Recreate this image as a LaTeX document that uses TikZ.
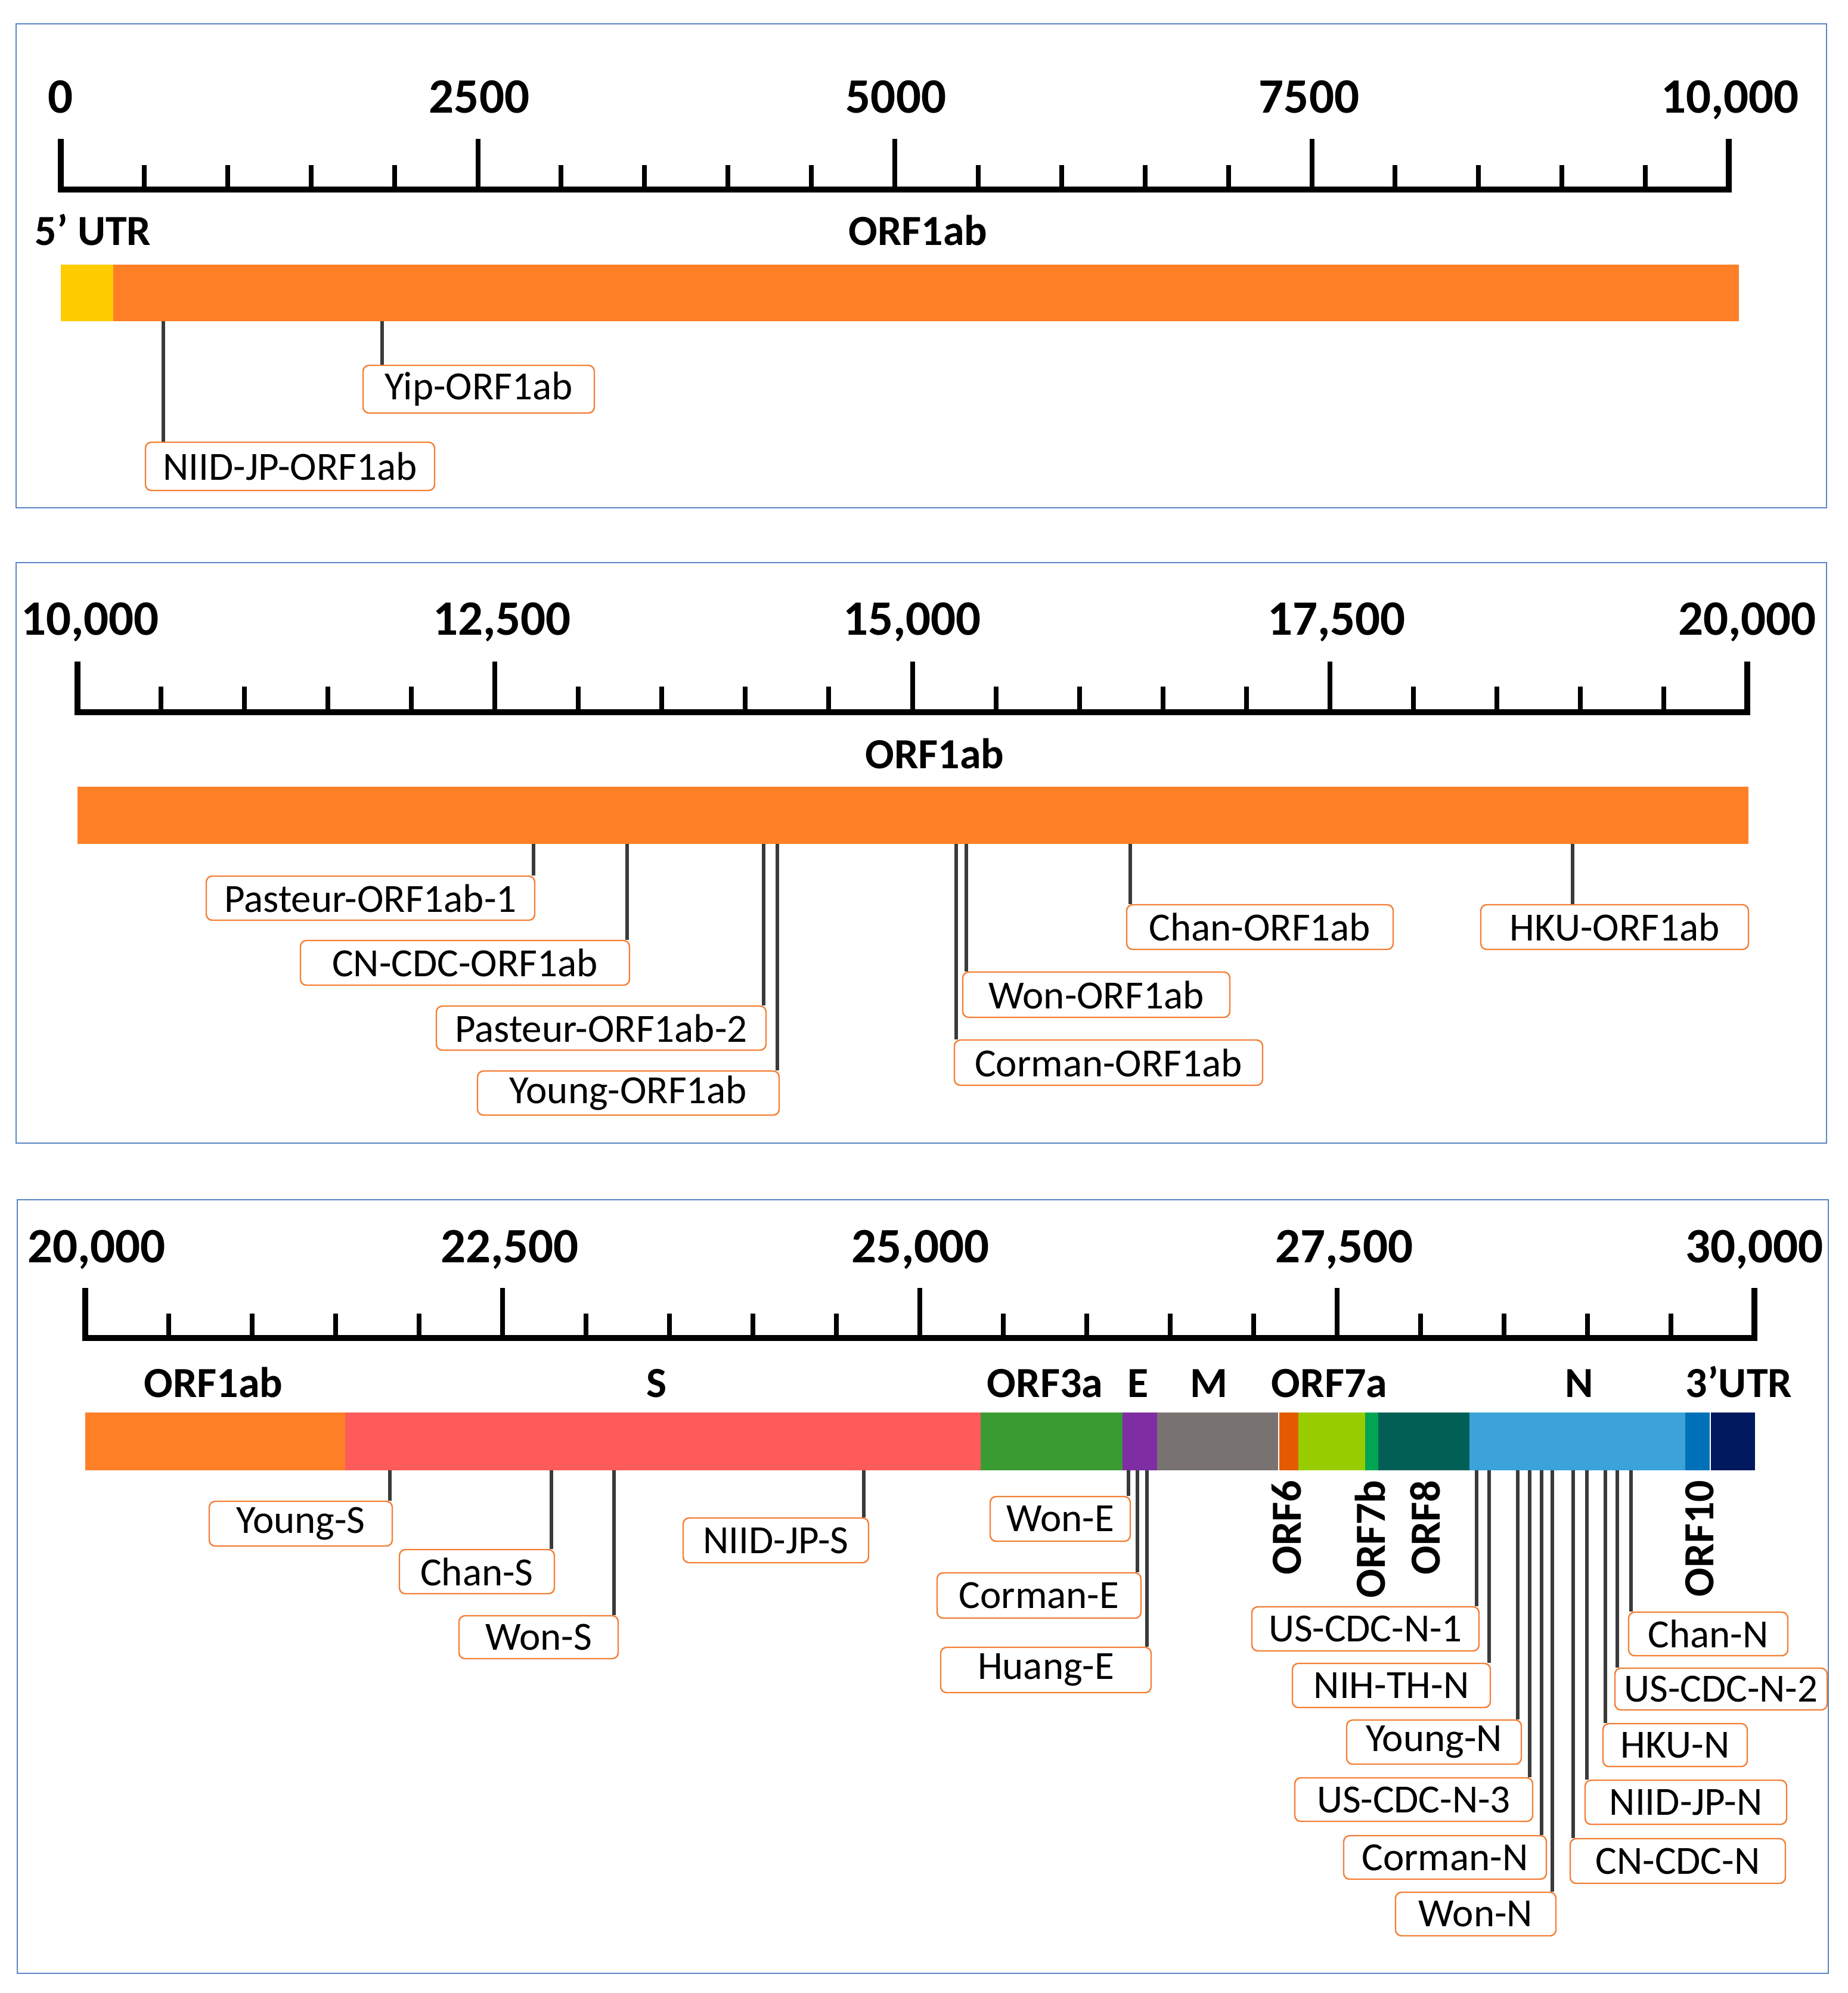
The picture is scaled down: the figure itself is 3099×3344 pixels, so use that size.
\documentclass[tikz,border=0pt]{standalone}
\usepackage{fontspec}
\setmainfont{Carlito}
\definecolor{frameblue}{HTML}{5A85C4}
\definecolor{boxorange}{HTML}{F47F36}
\definecolor{conngray}{HTML}{3A3A3A}
\definecolor{cUTRf}{HTML}{FFCC00}
\definecolor{cORFone}{HTML}{FF7F27}
\definecolor{cS}{HTML}{FF5B5B}
\definecolor{cORFthreea}{HTML}{3B9B33}
\definecolor{cE}{HTML}{7F2DA3}
\definecolor{cM}{HTML}{787371}
\definecolor{cORFsix}{HTML}{E35A00}
\definecolor{cORFsevena}{HTML}{97CD00}
\definecolor{cORFsevenb}{HTML}{00A652}
\definecolor{cORFeight}{HTML}{015F56}
\definecolor{cN}{HTML}{3BA2DA}
\definecolor{cORFten}{HTML}{0071B9}
\definecolor{cUTRt}{HTML}{00195F}
\newcommand{\mkprobe}[8]{%
  \node[probebox, minimum width={(#4-#2)*0.25pt}, minimum height={(#5-#3)*0.25pt}] (#1) at ({(#2+#4)/2},{(#3+#5)/2}) {#8};
  \coordinate (#1-src) at (#6,#7);
  \draw[conn] (#1-src) -- (#1-src |- #1.north);
}
\newcommand{\mkaxis}[5]{%
  \draw[axisline] (#1,#4) -- (#1,#3) -- (#2,#3) -- (#2,#4);
  \foreach \i in {1,2,3,4,6,7,8,9,11,12,13,14,16,17,18,19} {
    \pgfmathsetmacro\xx{#1+(#2-#1)/20*\i}
    \draw[tickline] (\xx,#3) -- (\xx,#5);
  }
  \foreach \i in {5,10,15} {
    \pgfmathsetmacro\xx{#1+(#2-#1)/20*\i}
    \draw[tickline] (\xx,#3) -- (\xx,#4);
  }
}
\begin{document}
\begin{tikzpicture}[x=0.25pt,y=-0.25pt,
  panelframe/.style={draw=frameblue, line width=0.7pt},
  axisline/.style={line width=2.3pt, draw=black, line join=miter},
  tickline/.style={line width=2pt, draw=black},
  num/.style={font=\bfseries\fontsize{20.75}{24}\selectfont, anchor=base, inner sep=0pt},
  gene/.style={font=\bfseries\fontsize{18}{21}\selectfont, anchor=base, inner sep=0pt},
  vgene/.style={font=\bfseries\fontsize{18}{21}\selectfont, anchor=east, rotate=90, inner sep=0pt},
  probebox/.style={draw=boxorange, fill=white, line width=0.6pt, rounded corners=2.5pt, inner sep=0pt, font=\fontsize{16.75}{20}\selectfont},
  conn/.style={draw=conngray, line width=1.4pt},
]
\fill[white] (0,0) rectangle (3099,3344);
\useasboundingbox (0,0) rectangle (3099,3344);

% ================= Panel 1 =================
\draw[panelframe] (27,40) rectangle (3064,852);
\mkaxis{102}{2900}{318}{233}{277}
\node[num] (p1n0) at (102,189) {0};
\node[num] (p1n1) at (804,189) {2500};
\node[num] (p1n2) at (1503,189) {5000};
\node[num] (p1n3) at (2196,189) {7500};
\node[num] (p1n4) at (2902,189) {10,000};
\node[gene] (p1utr) at (156,411) {5’ UTR};
\node[gene] (p1orf) at (1540,411) {ORF1ab};
\fill[cUTRf] (102,444) rectangle (190,539);
\fill[cORFone] (190,444) rectangle (2917,539);
\mkprobe{niidjporf}{244}{742}{729}{823}{274}{539}{NIID-JP-ORF1ab}
\mkprobe{yiporf}{609}{613}{997}{693}{641}{539}{Yip-ORF1ab}

% ================= Panel 2 =================
\draw[panelframe] (27,944) rectangle (3064,1918);
\mkaxis{130}{2931}{1195}{1110}{1152}
\node[num] (p2n0) at (151,1065) {10,000};
\node[num] (p2n1) at (842,1065) {12,500};
\node[num] (p2n2) at (1530,1065) {15,000};
\node[num] (p2n3) at (2242,1065) {17,500};
\node[num] (p2n4) at (2931,1065) {20,000};
\node[gene] (p2orf) at (1568,1289) {ORF1ab};
\fill[cORFone] (130,1320) rectangle (2933,1416);
\mkprobe{pasteurone}{346}{1470}{897}{1544}{895}{1416}{Pasteur-ORF1ab-1}
\mkprobe{cncdcorf}{504}{1578}{1056}{1653}{1052}{1416}{CN-CDC-ORF1ab}
\mkprobe{pasteurtwo}{732}{1688}{1285}{1762}{1281}{1416}{Pasteur-ORF1ab-2}
\mkprobe{youngorf}{801}{1797}{1307}{1871}{1304}{1416}{Young-ORF1ab}
\mkprobe{wonorf}{1615}{1631}{2063}{1707}{1621}{1416}{Won-ORF1ab}
\mkprobe{cormanorf}{1601}{1745}{2118}{1821}{1604}{1416}{Corman-ORF1ab}
\mkprobe{chanorf}{1890}{1518}{2337}{1593}{1896}{1416}{Chan-ORF1ab}
\mkprobe{hkuorf}{2484}{1518}{2933}{1593}{2638}{1416}{HKU-ORF1ab}

% ================= Panel 3 =================
\draw[panelframe] (29,2013) rectangle (3067,3311);
\mkaxis{143}{2943}{2245}{2161}{2204}
\node[num] (p3n0) at (162,2118) {20,000};
\node[num] (p3n1) at (855,2118) {22,500};
\node[num] (p3n2) at (1544,2118) {25,000};
\node[num] (p3n3) at (2255,2118) {27,500};
\node[num] (p3n4) at (2943,2118) {30,000};
\node[gene] (gORF1ab) at (358,2344) {ORF1ab};
\node[gene] (gS) at (1102,2344) {S};
\node[gene] (gORF3a) at (1753,2344) {ORF3a};
\node[gene] (gE) at (1909,2344) {E};
\node[gene] (gM) at (2028,2344) {M};
\node[gene] (gORF7a) at (2230,2344) {ORF7a};
\node[gene] (gN) at (2649,2344) {N};
\node[gene] (gUTR) at (2917,2344) {3’UTR};
\fill[cORFone] (143,2370) rectangle (579,2467);
\fill[cS] (579,2370) rectangle (1645,2467);
\fill[cORFthreea] (1645,2370) rectangle (1883,2467);
\fill[cE] (1883,2370) rectangle (1941,2467);
\fill[cM] (1941,2370) rectangle (2144,2467);
\fill[cORFsix] (2146,2370) rectangle (2178,2467);
\fill[cORFsevena] (2178,2370) rectangle (2290,2467);
\fill[cORFsevenb] (2290,2370) rectangle (2312,2467);
\fill[cORFeight] (2312,2370) rectangle (2465,2467);
\fill[cN] (2465,2370) rectangle (2827,2467);
\fill[cORFten] (2827,2370) rectangle (2868,2467);
\fill[cUTRt] (2870,2370) rectangle (2944,2467);
\node[vgene] (gORF6) at (2158,2483) {ORF6};
\node[vgene] (gORF7b) at (2298,2483) {ORF7b};
\node[vgene] (gORF8) at (2391,2483) {ORF8};
\node[vgene] (gORF10) at (2851,2483) {ORF10};

\mkprobe{youngs}{351}{2519}{658}{2594}{654}{2467}{Young-S}
\mkprobe{chans}{670}{2600}{930}{2674}{925}{2467}{Chan-S}
\mkprobe{wons}{770}{2711}{1037}{2783}{1030}{2467}{Won-S}
\mkprobe{niidjps}{1146}{2547}{1457}{2622}{1449}{2467}{NIID-JP-S}
\mkprobe{wone}{1661}{2511}{1896}{2586}{1893}{2467}{Won-E}
\mkprobe{cormane}{1572}{2639}{1914}{2715}{1908}{2467}{Corman-E}
\mkprobe{huange}{1578}{2764}{1931}{2840}{1924}{2467}{Huang-E}
\mkprobe{uscdcnone}{2100}{2696}{2481}{2770}{2477}{2467}{US-CDC-N-1}
\mkprobe{nihthn}{2168}{2791}{2500}{2865}{2498}{2467}{NIH-TH-N}
\mkprobe{youngn}{2259}{2886}{2552}{2960}{2546}{2467}{Young-N}
\mkprobe{uscdcnthree}{2172}{2983}{2571}{3056}{2566}{2467}{US-CDC-N-3}
\mkprobe{cormann}{2254}{3080}{2594}{3153}{2586}{2467}{Corman-N}
\mkprobe{wonn}{2341}{3175}{2610}{3248}{2604}{2467}{Won-N}
\mkprobe{cncdcn}{2634}{3085}{2995}{3160}{2639}{2467}{CN-CDC-N}
\mkprobe{niidjpn}{2659}{2987}{2997}{3061}{2662}{2467}{NIID-JP-N}
\mkprobe{hkun}{2689}{2892}{2931}{2964}{2693}{2467}{HKU-N}
\mkprobe{uscdcntwo}{2709}{2799}{3065}{2869}{2713}{2467}{US-CDC-N-2}
\mkprobe{chann}{2732}{2705}{2999}{2778}{2736}{2467}{Chan-N}
\end{tikzpicture}
\end{document}
